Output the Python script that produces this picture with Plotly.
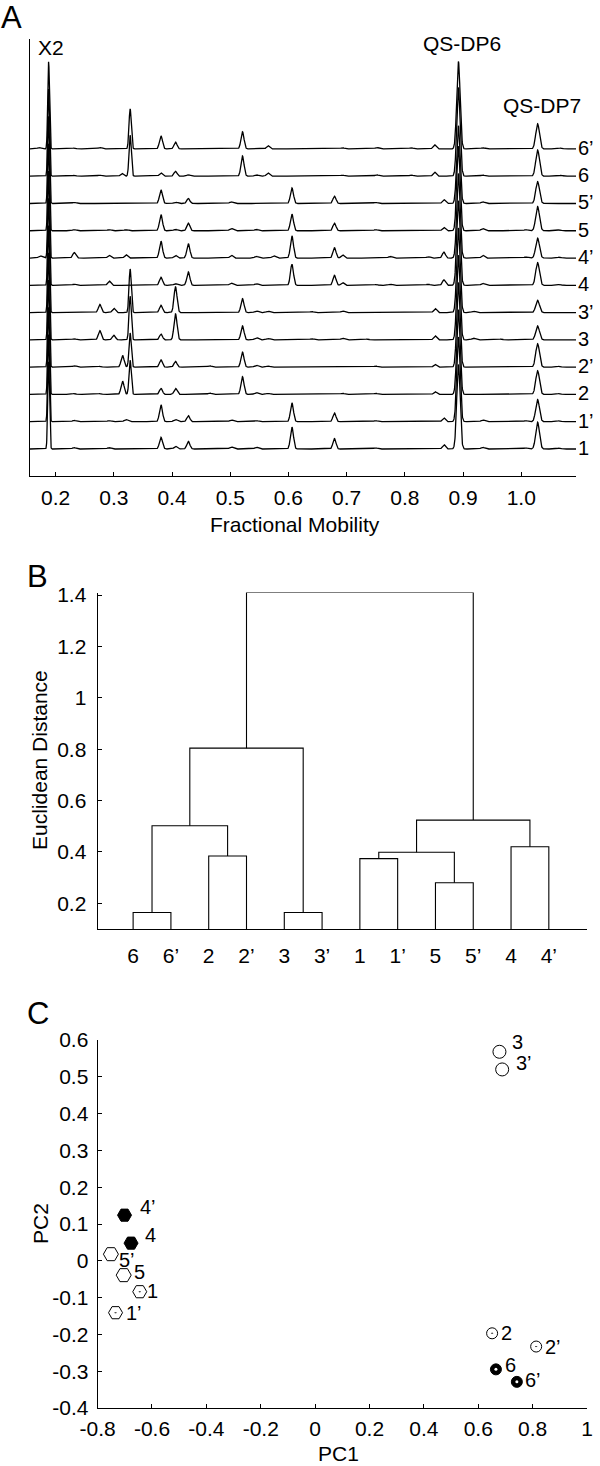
import numpy as np
import plotly.graph_objects as go

FONT = "Liberation Sans, Arial, Helvetica, sans-serif"

# ---------------- Panel A: electropherogram traces (peak position, peak height) ----------------
trace_names = ["1", "1’", "2", "2’", "3", "3’", "4", "4’", "5", "5’", "6", "6’"]

peaks_1 = [(0.188, 3.2), (0.232, 0.05), (0.292, 0.05), (0.381, 0.43), (0.406, 0.10), (0.428, 0.28),
           (0.502, 0.07), (0.545, 0.06), (0.606, 0.80), (0.679, 0.38), (0.750, 0.04), (0.867, 0.16),
           (0.892, 3.1), (0.934, 0.06), (1.008, 0.04), (1.028, 0.98), (1.065, 0.03)]
peaks_1p = [(0.188, 3.2), (0.232, 0.05), (0.292, 0.04), (0.321, 0.08), (0.381, 0.62), (0.406, 0.08),
            (0.428, 0.22), (0.502, 0.06), (0.545, 0.04), (0.606, 0.69), (0.679, 0.32), (0.750, 0.04),
            (0.867, 0.14), (0.892, 3.1), (0.934, 0.06), (1.008, 0.04), (1.028, 0.81), (1.065, 0.03)]
peaks_2 = [(0.188, 3.2), (0.232, 0.03), (0.276, 0.03), (0.315, 0.49), (0.328, 1.25), (0.381, 0.22),
           (0.406, 0.22), (0.465, 0.05), (0.521, 0.65), (0.545, 0.07), (0.565, 0.04), (0.693, 0.04),
           (0.750, 0.04), (0.852, 0.10), (0.892, 3.1), (1.028, 0.87), (1.065, 0.03)]
peaks_2p = [(0.188, 3.2), (0.232, 0.05), (0.276, 0.03), (0.315, 0.43), (0.328, 1.25), (0.381, 0.27),
            (0.406, 0.21), (0.465, 0.05), (0.521, 0.55), (0.545, 0.07), (0.565, 0.04), (0.750, 0.04),
            (0.852, 0.10), (0.892, 3.1), (1.028, 0.86), (1.065, 0.03)]
peaks_3 = [(0.188, 3.2), (0.232, 0.04), (0.276, 0.34), (0.300, 0.17), (0.328, 1.6), (0.381, 0.21),
           (0.406, 0.95), (0.521, 0.51), (0.545, 0.08), (0.565, 0.05), (0.640, 0.04), (0.693, 0.06),
           (0.735, 0.03), (0.852, 0.15), (0.892, 3.1), (0.918, 0.06), (0.965, 0.03), (1.028, 0.51)]
peaks_3p = [(0.188, 3.2), (0.276, 0.30), (0.300, 0.16), (0.328, 1.6), (0.381, 0.27), (0.406, 0.94),
            (0.521, 0.51), (0.545, 0.06), (0.565, 0.05), (0.640, 0.04), (0.693, 0.06), (0.852, 0.15),
            (0.892, 3.1), (0.918, 0.05), (1.028, 0.45)]
peaks_4 = [(0.188, 3.2), (0.232, 0.04), (0.292, 0.16), (0.381, 0.30), (0.406, 0.06), (0.428, 0.49),
           (0.502, 0.08), (0.545, 0.06), (0.606, 0.77), (0.679, 0.37), (0.693, 0.10), (0.750, 0.03),
           (0.775, 0.04), (0.840, 0.04), (0.867, 0.20), (0.892, 3.1), (0.934, 0.07), (1.028, 0.83),
           (1.065, 0.03)]
peaks_4p = [(0.174, 0.08), (0.188, 3.2), (0.232, 0.20), (0.292, 0.10), (0.321, 0.12), (0.381, 0.62),
            (0.406, 0.10), (0.428, 0.53), (0.502, 0.10), (0.545, 0.06), (0.575, 0.08), (0.606, 0.81),
            (0.679, 0.38), (0.693, 0.12), (0.775, 0.06), (0.840, 0.05), (0.867, 0.22), (0.892, 3.1),
            (0.934, 0.10), (1.008, 0.04), (1.028, 0.73), (1.065, 0.03)]
peaks_5 = [(0.188, 3.2), (0.232, 0.04), (0.292, 0.04), (0.321, 0.04), (0.381, 0.59), (0.406, 0.05),
           (0.428, 0.28), (0.502, 0.08), (0.545, 0.05), (0.606, 0.61), (0.679, 0.28), (0.750, 0.04),
           (0.867, 0.12), (0.892, 3.1), (0.934, 0.08), (1.008, 0.04), (1.028, 0.89), (1.065, 0.03)]
peaks_5p = [(0.188, 3.2), (0.232, 0.04), (0.381, 0.50), (0.406, 0.05), (0.428, 0.18), (0.502, 0.06),
            (0.606, 0.57), (0.679, 0.27), (0.750, 0.04), (0.867, 0.14), (0.892, 2.85), (0.934, 0.06),
            (1.028, 0.80)]
peaks_6 = [(0.188, 3.2), (0.232, 0.03), (0.276, 0.04), (0.314, 0.10), (0.328, 1.5), (0.381, 0.12),
           (0.406, 0.18), (0.428, 0.05), (0.521, 0.74), (0.545, 0.05), (0.565, 0.12), (0.693, 0.04),
           (0.752, 0.05), (0.811, 0.04), (0.851, 0.15), (0.892, 3.25), (0.934, 0.04), (1.028, 0.96),
           (1.068, 0.03)]
peaks_6p = [(0.172, 0.05), (0.188, 3.2), (0.232, 0.03), (0.276, 0.05), (0.328, 1.47), (0.381, 0.48),
            (0.406, 0.25), (0.521, 0.63), (0.565, 0.12), (0.693, 0.04), (0.752, 0.05), (0.811, 0.04),
            (0.851, 0.15), (0.892, 3.2), (0.934, 0.04), (1.028, 0.92), (1.068, 0.03)]

trace_peaks = [peaks_1, peaks_1p, peaks_2, peaks_2p, peaks_3, peaks_3p,
               peaks_4, peaks_4p, peaks_5, peaks_5p, peaks_6, peaks_6p]

mobility_ticks = [0.2, 0.3, 0.4, 0.5, 0.6, 0.7, 0.8, 0.9, 1.0]
mobility_ticktext = ["0.2", "0.3", "0.4", "0.5", "0.6", "0.7", "0.8", "0.9", "1.0"]

# ---------------- Panel B: dendrogram ----------------
leaf_labels = ["6", "6’", "2", "2’", "3", "3’", "1", "1’", "5", "5’", "4", "4’"]
# merges: (child_a, child_b, height); children < 12 are leaves, >= 12 are earlier merges
merges = [(0, 1, 0.164), (2, 3, 0.384), (12, 13, 0.502), (4, 5, 0.164), (14, 15, 0.804),
          (6, 7, 0.374), (8, 9, 0.280), (17, 18, 0.399), (10, 11, 0.420), (19, 20, 0.524),
          (16, 21, 1.41)]
dist_ticks = [0.2, 0.4, 0.6, 0.8, 1.0, 1.2, 1.4]
dist_ticktext = ["0.2", "0.4", "0.6", "0.8", "1", "1.2", "1.4"]

# ---------------- Panel C: PCA scores ----------------
pc_labels = ["1", "1’", "2", "2’", "3", "3’", "4", "4’", "5", "5’", "6", "6’"]
pc1 = [-0.645, -0.734, 0.651, 0.813, 0.678, 0.688, -0.677, -0.701, -0.704, -0.751, 0.665, 0.742]
pc2 = [-0.084, -0.141, -0.197, -0.233, 0.568, 0.520, 0.048, 0.124, -0.039, 0.018, -0.295, -0.329]
pc1_ticks = [-0.8, -0.6, -0.4, -0.2, 0, 0.2, 0.4, 0.6, 0.8, 1]
pc1_ticktext = ["-0.8", "-0.6", "-0.4", "-0.2", "0", "0.2", "0.4", "0.6", "0.8", "1"]
pc2_ticks = [-0.4, -0.3, -0.2, -0.1, 0, 0.1, 0.2, 0.3, 0.4, 0.5, 0.6]
pc2_ticktext = ["-0.4", "-0.3", "-0.2", "-0.1", "0", "0.1", "0.2", "0.3", "0.4", "0.5", "0.6"]

# ======================================================================
W, H = 600, 1466


def px(x):
    return x / W


def py(y):
    return 1 - y / H


fig = go.Figure()

# ---- Panel A traces ----
xgrid = np.linspace(0.156, 1.094, 3000)


def sigma_for(pos, h):
    if abs(pos - 0.188) < 0.003:
        return 0.0015
    if abs(pos - 0.892) < 0.003:
        return 0.0029
    if abs(pos - 1.028) < 0.003:
        return 0.0032
    if abs(pos - 0.328) < 0.002:
        return 0.0019
    if h < 0.09:
        return 0.0032
    return 0.0026


for i, (name, pk) in enumerate(zip(trace_names, trace_peaks)):
    yv = np.full_like(xgrid, float(i))
    for pos, h in pk:
        s = sigma_for(pos, h)
        yv = yv + h * np.exp(-0.5 * ((xgrid - pos) / s) ** 2)
    fig.add_trace(go.Scatter(x=xgrid, y=yv, mode="lines", line=dict(color="black", width=1.3),
                             xaxis="x", yaxis="y", showlegend=False, hoverinfo="skip"))

# ---- Panel B dendrogram ----
node_x = {i: i + 1 for i in range(len(leaf_labels))}
node_h = {i: 0.1 for i in range(len(leaf_labels))}
seg_x, seg_y = [], []
for k, (a, b, h) in enumerate(merges):
    nid = len(leaf_labels) + k
    xa, xb = node_x[a], node_x[b]
    seg_x += [xa, xa, xb, xb, None]
    seg_y += [node_h[a], h, h, node_h[b], None]
    node_x[nid] = (xa + xb) / 2
    node_h[nid] = h
fig.add_trace(go.Scatter(x=seg_x, y=seg_y, mode="lines", line=dict(color="black", width=1.1),
                         xaxis="x2", yaxis="y2", showlegend=False, hoverinfo="skip"))

# ---- Panel C scatter ----
groups = {
    "1": dict(symbol="hexagon2-open-dot", size=14, color="black"),
    "2": dict(symbol="circle-open-dot", size=11, color="black"),
    "3": dict(symbol="circle-open", size=13, color="black"),
    "4": dict(symbol="hexagon2", size=14, color="black"),
    "5": dict(symbol="hexagon2-open", size=15, color="black"),
    "6": dict(symbol="circle", size=11, color="black"),
}
for g, st in groups.items():
    idx = [i for i, l in enumerate(pc_labels) if l[0] == g]
    fig.add_trace(go.Scatter(x=[pc1[i] for i in idx], y=[pc2[i] for i in idx], mode="markers",
                             marker=dict(symbol=st["symbol"], size=st["size"], color=st["color"],
                                         line=dict(color="black", width=1)),
                             xaxis="x3", yaxis="y3", showlegend=False, hoverinfo="skip"))
idx6 = [i for i, l in enumerate(pc_labels) if l[0] == "6"]
fig.add_trace(go.Scatter(x=[pc1[i] for i in idx6], y=[pc2[i] for i in idx6], mode="markers",
                         marker=dict(symbol="circle", size=3, color="white"),
                         xaxis="x3", yaxis="y3", showlegend=False, hoverinfo="skip"))

annotations = []
tf = dict(family=FONT, size=21, color="black")


def centered(text, xx, yy, font=tf, angle=0):
    return dict(text=text, x=px(xx), y=py(yy), xref="paper", yref="paper", xanchor="center",
                yanchor="middle", showarrow=False, textangle=angle, font=font)


# panel letters
for letter, (xx, yy) in {"A": (11, 18), "B": (37, 576), "C": (38, 1013)}.items():
    annotations.append(centered(letter, xx, yy, font=dict(family=FONT, size=31, color="black")))

# panel A peak annotations
for txt, (xx, yy) in {"X2": (50.5, 48), "QS-DP6": (462, 43), "QS-DP7": (542, 105)}.items():
    annotations.append(centered(txt, xx, yy))

# trace labels
for i, name in enumerate(trace_names):
    annotations.append(dict(text=name, x=px(576), y=i, xref="paper", yref="y", xanchor="left",
                            yanchor="middle", xshift=0, yshift=1, showarrow=False,
                            font=dict(family=FONT, size=20, color="black")))

# axis titles
annotations.append(centered("Fractional Mobility", 295, 524))
annotations.append(centered("Euclidean Distance", 39, 760, angle=-90))
annotations.append(centered("PC1", 338, 1453))
annotations.append(centered("PC2", 40, 1224, angle=-90))

# PCA point labels (offsets in px)
label_offsets = {"1": (5, 1), "1’": (8, 0), "2": (7, 0), "2’": (7, 0), "3": (11, 10), "3’": (12, 6),
                 "4": (12, 8), "4’": (13, 8), "5": (8, 3), "5’": (6, -6), "6": (7, 4), "6’": (6, 2)}
for i, lab in enumerate(pc_labels):
    dx, dy = label_offsets[lab]
    annotations.append(dict(text=lab, x=pc1[i], y=pc2[i], xref="x3", yref="y3", xanchor="left",
                            yanchor="middle", xshift=dx, yshift=dy, showarrow=False,
                            font=dict(family=FONT, size=20, color="black")))

axis_common = dict(showline=True, linecolor="black", linewidth=1, showgrid=False, zeroline=False,
                   tickfont=dict(family=FONT, size=21, color="black"), ticks="inside", ticklen=4,
                   tickcolor="black", tickwidth=1, automargin=False)

fig.update_layout(
    width=W, height=H, margin=dict(l=0, r=0, t=0, b=0, autoexpand=False),
    paper_bgcolor="white", plot_bgcolor="white", showlegend=False,
    font=dict(family=FONT, size=21, color="black"),
    xaxis=dict(domain=[px(30), px(576)], range=[0.156, 1.094], tickmode="array",
               tickvals=mobility_ticks, ticktext=mobility_ticktext, anchor="y",
               ticklabelstandoff=3, **axis_common),
    yaxis=dict(domain=[py(476), py(39)], range=[-0.99, 15.03], showline=True, linecolor="black",
               linewidth=1, showgrid=False, zeroline=False, showticklabels=False, ticks="",
               anchor="x", automargin=False),
    xaxis2=dict(domain=[px(97.6), px(587)], range=[0.06, 13.01], tickmode="array",
                tickvals=list(range(1, 13)), ticktext=leaf_labels, anchor="y2",
                ticklabelstandoff=8, **{**axis_common, "ticks": ""}),
    yaxis2=dict(domain=[py(929), py(592.5)], range=[0.1, 1.41], tickmode="array",
                tickvals=dist_ticks, ticktext=dist_ticktext, anchor="x2",
                ticklabelstandoff=6, **axis_common),
    xaxis3=dict(domain=[px(97.6), px(587)], range=[-0.8, 1.0], tickmode="array",
                tickvals=pc1_ticks, ticktext=pc1_ticktext, anchor="y3",
                ticklabelstandoff=2, **axis_common),
    yaxis3=dict(domain=[py(1408), py(1040)], range=[-0.4, 0.6], tickmode="array",
                tickvals=pc2_ticks, ticktext=pc2_ticktext, anchor="x3",
                ticklabelstandoff=4, **axis_common),
    annotations=annotations,
)

fig.write_html(
    "out.html",
    config={"displayModeBar": False},
    post_script=("document.documentElement.style.margin='0';"
                 "document.documentElement.style.overflow='hidden';"
                 "document.body.style.margin='0';"
                 "document.body.style.overflow='hidden';"),
)
